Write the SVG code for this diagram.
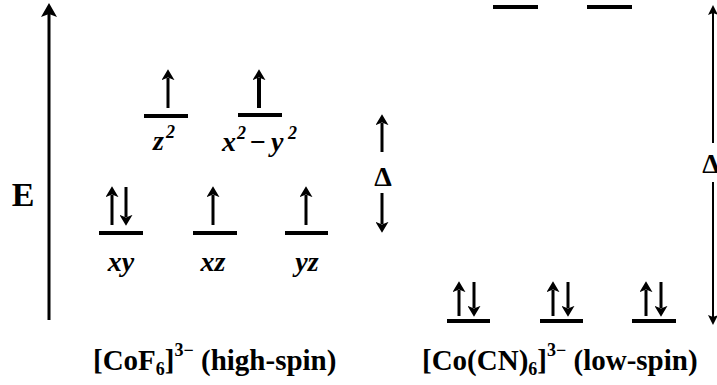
<svg xmlns="http://www.w3.org/2000/svg" width="717" height="385" viewBox="0 0 717 385">
<style>
  .lvl{stroke:#000;stroke-width:4;fill:none}
  .e{stroke:#000;stroke-width:3;fill:none;marker-end:url(#eh)}
  .ax{stroke:#000;stroke-width:3;fill:none}
  .lbl{font-family:"Liberation Serif",serif;font-weight:bold;font-size:29px;fill:#000}
  .orb{font-family:"Liberation Serif",serif;font-weight:bold;font-style:italic;font-size:28px;fill:#000}
  .sup{font-size:18px}
</style>
<defs>
  <marker id="eh" viewBox="0 -6 10 12" refX="2" refY="0" markerWidth="11" markerHeight="13" markerUnits="userSpaceOnUse" orient="auto">
    <path d="M0,-6 L10,0 L0,6 L2.5,0 Z" fill="#000"/>
  </marker>
  <marker id="axh" viewBox="0 -8 14 16" refX="3" refY="0" markerWidth="14" markerHeight="16" markerUnits="userSpaceOnUse" orient="auto">
    <path d="M0,-8 L14,0 L0,8 L3,0 Z" fill="#000"/>
  </marker>
  <marker id="rh" viewBox="0 -5 10 10" refX="2" refY="0" markerWidth="10" markerHeight="10" markerUnits="userSpaceOnUse" orient="auto">
    <path d="M0,-5 L10,0 L0,5 L2,0 Z" fill="#000"/>
  </marker>
</defs>
<rect width="717" height="385" fill="#fff"/>

<g id="connectors">
  <line class="ax" x1="49" y1="320" x2="49" y2="14" marker-end="url(#axh)"/>
  <line class="e" x1="382" y1="152" x2="382" y2="123"/>
  <line class="e" x1="382" y1="193" x2="382" y2="224"/>
  <line x1="713" y1="143" x2="713" y2="13" stroke="#000" stroke-width="2" marker-end="url(#rh)"/>
  <line x1="713" y1="182" x2="713" y2="317" stroke="#000" stroke-width="2" marker-end="url(#rh)"/>
</g>

<g id="axis-label"><text class="lbl" x="23" y="206" text-anchor="middle" style="font-size:34px">E</text></g>
<g id="delta-left"><text class="lbl" x="383" y="186" text-anchor="middle" style="font-size:28px">Δ</text></g>
<g id="delta-right"><text class="lbl" x="711" y="173" text-anchor="middle" style="font-size:28px">Δ</text></g>

<!-- high-spin -->
<g id="hs-z2">
  <line class="lvl" x1="144" y1="116" x2="188" y2="116"/>
  <line class="e" x1="168" y1="108" x2="168" y2="78"/>
  <text class="orb" x="153" y="150">z</text>
  <text class="orb sup" x="166" y="138">2</text>
</g>
<g id="hs-x2y2">
  <line class="lvl" x1="238" y1="115" x2="282" y2="115"/>
  <line class="e" x1="259" y1="108" x2="259" y2="78" style="stroke-width:4"/>
  <text class="orb" x="222" y="151">x</text>
  <text class="orb sup" x="237" y="139">2</text>
  <text class="orb" x="250" y="151" style="font-style:normal">−</text>
  <text class="orb" x="271" y="151">y</text>
  <text class="orb sup" x="288" y="139">2</text>
</g>
<g id="hs-xy">
  <line class="lvl" x1="99" y1="233" x2="143" y2="233"/>
  <line class="e" x1="112" y1="225" x2="112" y2="195"/>
  <line class="e" x1="126" y1="187" x2="126" y2="217"/>
  <text class="orb" x="121" y="271" text-anchor="middle">xy</text>
</g>
<g id="hs-xz">
  <line class="lvl" x1="193" y1="233" x2="237" y2="233"/>
  <line class="e" x1="213" y1="225" x2="213" y2="195"/>
  <text class="orb" x="213" y="271" text-anchor="middle">xz</text>
</g>
<g id="hs-yz">
  <line class="lvl" x1="285" y1="233" x2="328" y2="233"/>
  <line class="e" x1="306" y1="225" x2="306" y2="195"/>
  <text class="orb" x="307" y="271" text-anchor="middle">yz</text>
</g>

<!-- low-spin -->
<g id="ls-eg1"><line class="lvl" x1="493" y1="7" x2="538" y2="7"/></g>
<g id="ls-eg2"><line class="lvl" x1="587" y1="7" x2="632" y2="7"/></g>
<g id="ls-t1">
  <line class="lvl" x1="447" y1="321" x2="490" y2="321"/>
  <line class="e" x1="459" y1="316" x2="459" y2="290"/>
  <line class="e" x1="474" y1="282" x2="474" y2="308"/>
</g>
<g id="ls-t2">
  <line class="lvl" x1="540" y1="321" x2="583" y2="321"/>
  <line class="e" x1="553" y1="316" x2="553" y2="290"/>
  <line class="e" x1="568" y1="282" x2="568" y2="308"/>
</g>
<g id="ls-t3">
  <line class="lvl" x1="632" y1="321" x2="676" y2="321"/>
  <line class="e" x1="646" y1="316" x2="646" y2="290"/>
  <line class="e" x1="661" y1="282" x2="661" y2="308"/>
</g>

<g id="label-hs">
  <text class="lbl" x="93" y="370">[CoF<tspan class="sup" dy="5">6</tspan><tspan dy="-5">]</tspan><tspan class="sup" dy="-14">3−</tspan><tspan dy="14"> (high-spin)</tspan></text>
</g>
<g id="label-ls">
  <text class="lbl" x="422" y="370">[Co(CN)<tspan class="sup" dy="5">6</tspan><tspan dy="-5">]</tspan><tspan class="sup" dy="-14">3−</tspan><tspan dy="14"> (low-spin)</tspan></text>
</g>
</svg>
